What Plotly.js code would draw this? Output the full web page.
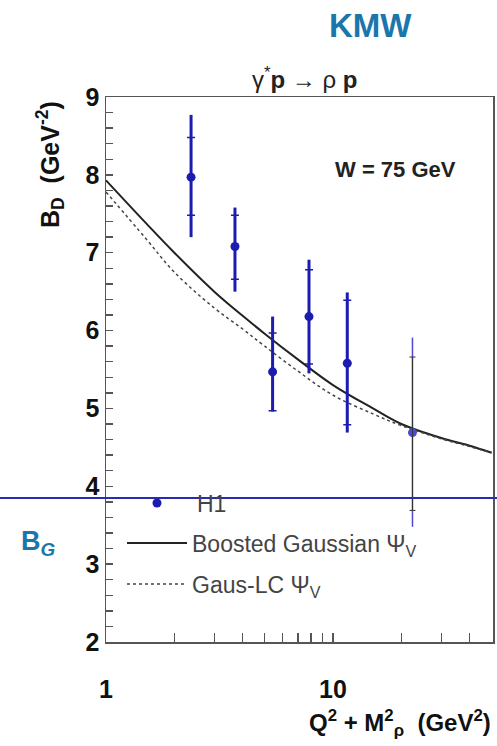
<!DOCTYPE html>
<html>
<head>
<meta charset="utf-8">
<script src="https://cdn.plot.ly/plotly-3.0.1.min.js"></script>
<style>html,body{margin:0;padding:0;background:#fff;}#chart{width:497px;height:746px;}</style>
</head>
<body>
<div id="chart"></div>
<script>
// H1 data points: Q^2 + M_rho^2 (GeV^2) and B_D (GeV^-2)
const q2m2 = [2.37, 3.70, 5.42, 7.84, 11.56, 22.4];
const bD = [7.97, 7.08, 5.47, 6.18, 5.58, 4.69];
const statPlus = [0.51, 0.40, 0.50, 0.60, 0.81, 0.97];
const statMinus = [0.49, 0.42, 0.50, 0.61, 0.79, 1.00];
const totPlus = [0.80, 0.50, 0.71, 0.73, 0.91, 1.22];
const totMinus = [0.77, 0.58, 0.51, 0.73, 0.89, 1.21];

// Model curves
const curveX = [1, 1.5, 2, 3, 4, 5, 7, 10, 15, 20, 30, 40, 50];
const boostedGaussian = [7.93, 7.38, 7.00, 6.50, 6.19, 5.96, 5.63, 5.30, 5.00, 4.80, 4.62, 4.52, 4.43];
const gausLC = [7.78, 7.18, 6.75, 6.29, 6.02, 5.80, 5.48, 5.17, 4.93, 4.78, 4.61, 4.51, 4.43];

// Saturation level B_G
const bG = 3.85;

// Axis ticks
const xTicks = [1, 2, 3, 4, 5, 6, 7, 8, 9, 10, 20, 30, 40];
const xTickLabels = ['1', '', '', '', '', '', '', '', '', '10', '', '', ''];
const yTicks = [2, 2.2, 2.4, 2.6, 2.8, 3, 3.2, 3.4, 3.6, 3.8, 4, 4.2, 4.4, 4.6, 4.8, 5,
                5.2, 5.4, 5.6, 5.8, 6, 6.2, 6.4, 6.6, 6.8, 7, 7.2, 7.4, 7.6, 7.8, 8, 8.2, 8.4, 8.6, 8.8, 9];
const yTickLabels = ['2', '', '', '', '', '3', '', '', '', '', '4', '', '', '', '', '5',
                     '', '', '', '', '6', '', '', '', '', '7', '', '', '', '', '8', '', '', '', '', '9'];

const FONT = 'Arial, "Liberation Sans", Helvetica, sans-serif';
const BLUE = '#1c1cb0';
const BLUE_LIGHT = '#4a4ad0';
const TEAL = '#1b76ab';

const main = [0, 1, 2, 3, 4];
const last = [5];
const pick = (arr, idx) => idx.map(i => arr[i]);

const traces = [
  {
    x: curveX, y: boostedGaussian, type: 'scatter', mode: 'lines',
    name: 'Boosted Gaussian Ψ<sub>V</sub>', legend: 'legend2',
    line: {color: '#222', width: 2, shape: 'spline', smoothing: 1}
  },
  {
    x: curveX, y: gausLC, type: 'scatter', mode: 'lines',
    name: 'Gaus-LC Ψ<sub>V</sub>', legend: 'legend3',
    line: {color: '#444', width: 1.5, dash: 'dot', shape: 'spline', smoothing: 1}
  },
  {
    x: pick(q2m2, main), y: pick(bD, main), type: 'scatter', mode: 'markers',
    name: 'H1', legend: 'legend',
    marker: {color: BLUE, size: 9},
    error_y: {type: 'data', symmetric: false, array: pick(totPlus, main), arrayminus: pick(totMinus, main),
      color: BLUE, thickness: 3, width: 0}
  },
  {
    x: pick(q2m2, main), y: pick(bD, main), type: 'scatter', mode: 'markers',
    showlegend: false, hoverinfo: 'skip',
    marker: {color: BLUE, size: 9, opacity: 0},
    error_y: {type: 'data', symmetric: false, array: pick(statPlus, main), arrayminus: pick(statMinus, main),
      color: BLUE, thickness: 1.5, width: 4}
  },
  {
    x: pick(q2m2, last), y: pick(bD, last), type: 'scatter', mode: 'markers',
    showlegend: false,
    marker: {color: BLUE_LIGHT, size: 9},
    error_y: {type: 'data', symmetric: false, array: pick(totPlus, last), arrayminus: pick(totMinus, last),
      color: BLUE_LIGHT, thickness: 1.5, width: 0}
  },
  {
    x: pick(q2m2, last), y: pick(bD, last), type: 'scatter', mode: 'markers',
    showlegend: false, hoverinfo: 'skip',
    marker: {color: BLUE_LIGHT, size: 9, opacity: 0},
    error_y: {type: 'data', symmetric: false, array: pick(statPlus, last), arrayminus: pick(statMinus, last),
      color: '#333', thickness: 1, width: 3}
  }
];

const W = 497, H = 746, L = 106, R = 4, T = 97, B = 104;
const pw = W - L - R, ph = H - T - B;
const px = x => (x - L) / pw;
const py = y => (H - B - y) / ph;

const legendFont = {family: FONT, size: 23, color: '#444'};
const baseLegend = {
  bgcolor: 'rgba(0,0,0,0)', borderwidth: 0, font: legendFont,
  xanchor: 'left', yanchor: 'middle', orientation: 'v', tracegroupgap: 0
};

const layout = {
  width: W, height: H,
  margin: {l: L, r: R, t: T, b: B},
  paper_bgcolor: '#fff', plot_bgcolor: '#fff',
  font: {family: FONT, color: '#111'},
  xaxis: {
    type: 'log', range: [0, Math.log10(50.7)],
    showline: true, linecolor: '#555', linewidth: 1.5, mirror: true,
    showgrid: false, zeroline: false,
    tickmode: 'array', tickvals: xTicks, ticktext: xTickLabels,
    ticks: 'inside', ticklen: 9, tickwidth: 1.5, tickcolor: '#555',
    ticklabelstandoff: 24,
    tickfont: {family: FONT, size: 25, color: '#111', weight: 'bold'}
  },
  yaxis: {
    range: [2, 9],
    showline: true, linecolor: '#555', linewidth: 1.5, mirror: true,
    showgrid: false, zeroline: false,
    tickmode: 'array', tickvals: yTicks, ticktext: yTickLabels,
    ticks: 'inside', ticklen: 7, tickwidth: 1.5, tickcolor: '#555',
    tickfont: {family: FONT, size: 25, color: '#111', weight: 'bold'}
  },
  legend: Object.assign({}, baseLegend, {x: px(117), y: py(503), itemwidth: 70}),
  legend2: Object.assign({}, baseLegend, {x: px(122), y: py(543), itemwidth: 60}),
  legend3: Object.assign({}, baseLegend, {x: px(122), y: py(584), itemwidth: 60}),
  shapes: [
    {type: 'line', xref: 'paper', yref: 'y', x0: px(0), x1: px(W), y0: bG, y1: bG,
     line: {color: '#2a2ab8', width: 2}, layer: 'above'}
  ],
  annotations: [
    {text: 'KMW', xref: 'paper', yref: 'paper', x: px(370), y: py(25), showarrow: false,
     xanchor: 'center', yanchor: 'middle', font: {family: FONT, size: 33, color: TEAL, weight: 'bold'}},
    {text: 'γ<sup>*</sup><b>p</b> → ρ <b>p</b>', xref: 'paper', yref: 'paper', x: px(305), y: py(78), showarrow: false,
     xanchor: 'center', yanchor: 'middle', font: {family: FONT, size: 24, color: '#222'}},
    {text: '<b>W = 75 GeV</b>', xref: 'paper', yref: 'paper', x: px(333), y: py(170), showarrow: false,
     xanchor: 'left', yanchor: 'middle', font: {family: FONT, size: 22, color: '#222'}},
    {text: '<b>Q<sup>2</sup> + M<sup>2</sup><sub>ρ</sub>  (GeV<sup>2</sup>)</b>', xref: 'paper', yref: 'paper', x: px(493), y: py(723), showarrow: false,
     xanchor: 'right', yanchor: 'middle', font: {family: FONT, size: 24, color: '#111'}},
    {text: '<b>B<sub>D</sub>  (GeV<sup>-2</sup>)</b>', xref: 'paper', yref: 'paper', x: px(50), y: py(165), showarrow: false,
     textangle: -90, xanchor: 'center', yanchor: 'middle', font: {family: FONT, size: 25, color: '#111'}},
    {text: '<b>B<sub><i>G</i></sub></b>', xref: 'paper', yref: 'paper', x: px(38), y: py(543), showarrow: false,
     xanchor: 'center', yanchor: 'middle', font: {family: FONT, size: 27, color: TEAL}}
  ]
};

Plotly.newPlot('chart', traces, layout, {staticPlot: true, displayModeBar: false});
</script>
</body>
</html>
